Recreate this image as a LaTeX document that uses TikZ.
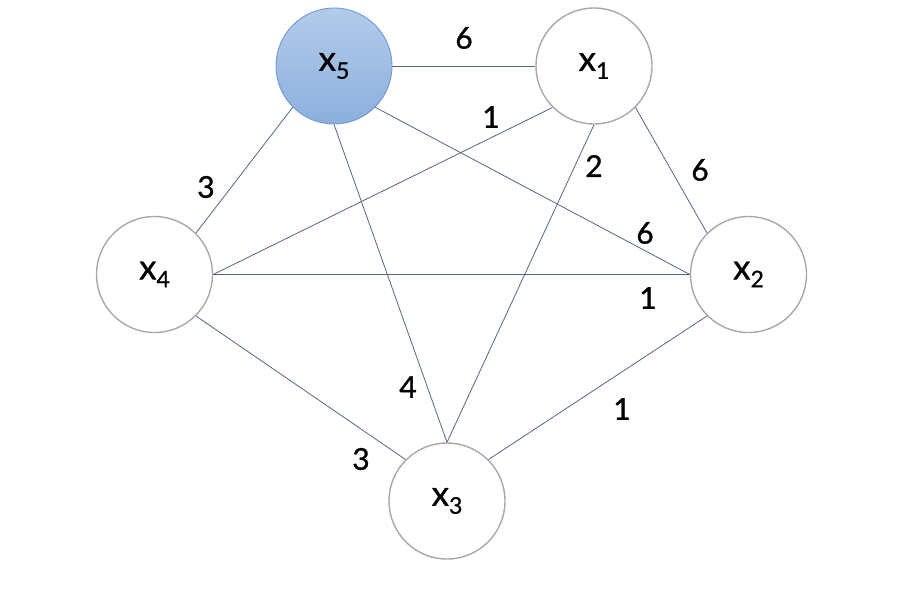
\documentclass[tikz,border=0pt]{standalone}
\usepackage{fontspec}
\setmainfont{Lato}[FakeBold=0.8,AutoFakeBold=0.8]
\definecolor{edgecol}{HTML}{56657F}
\definecolor{ringcol}{HTML}{A8A8A8}
\definecolor{bluetop}{HTML}{B3CBEA}
\definecolor{bluebot}{HTML}{8CAFDD}
\definecolor{blueline}{HTML}{6E9AD0}
\newcommand{\vsub}[1]{\raisebox{-0.45ex}{\fontsize{23}{23}\selectfont\addfontfeature{FakeBold=0.8}#1}}
\begin{document}
\begin{tikzpicture}[x=1pt,y=-1pt,
  vert/.style={circle,draw=ringcol,line width=1.4pt,minimum size=116pt,inner sep=0pt,fill=white,font=\fontsize{35}{35}\selectfont\addfontfeature{FakeBold=0.8}},
  hot/.style={vert,draw=blueline,line width=0.9pt,top color=bluetop,bottom color=bluebot},
  edge/.style={draw=edgecol,line width=0.8pt},
  wt/.style={font=\fontsize{30}{30}\selectfont\addfontfeature{FakeBold=1.0},inner sep=0pt}]
\useasboundingbox (0,0) rectangle (907,590);
\node[hot]  (x5) at (334,66)  {x\vsub{5}};
\node[vert] (x1) at (594,66)  {x\vsub{1}};
\node[vert] (x4) at (154.5,274.5) {x\vsub{4}};
\node[vert] (x2) at (748.5,274.5) {x\vsub{2}};
\node[vert] (x3) at (447,501) {x\vsub{3}};
\draw[edge] (x5.east) -- (x1.west);
\draw[edge] (x5.south west) -- (x4.north east);
\draw[edge] (x5.south) -- (x3.north);
\draw[edge] (x5.south east) -- (x2.west);
\draw[edge] (x1.south west) -- (x4.east);
\draw[edge] (x1.south) -- (x3.north);
\draw[edge] (x1.south east) -- (x2.north west);
\draw[edge] (x4.east) -- (x2.west);
\draw[edge] (x4.south east) -- (x3.north west);
\draw[edge] (x3.north east) -- (x2.south west);
\node[wt] (w51) at (464,38)  {6};
\node[wt] (w14) at (491,117) {1};
\node[wt] (w54) at (206,187) {3};
\node[wt] (w13) at (594,166) {2};
\node[wt] (w12) at (700,170) {6};
\node[wt] (w52) at (645,233) {6};
\node[wt] (w42) at (648,298) {1};
\node[wt] (w53) at (408,387) {4};
\node[wt] (w43) at (361,459) {3};
\node[wt] (w32) at (622,409) {1};
\end{tikzpicture}
\end{document}
